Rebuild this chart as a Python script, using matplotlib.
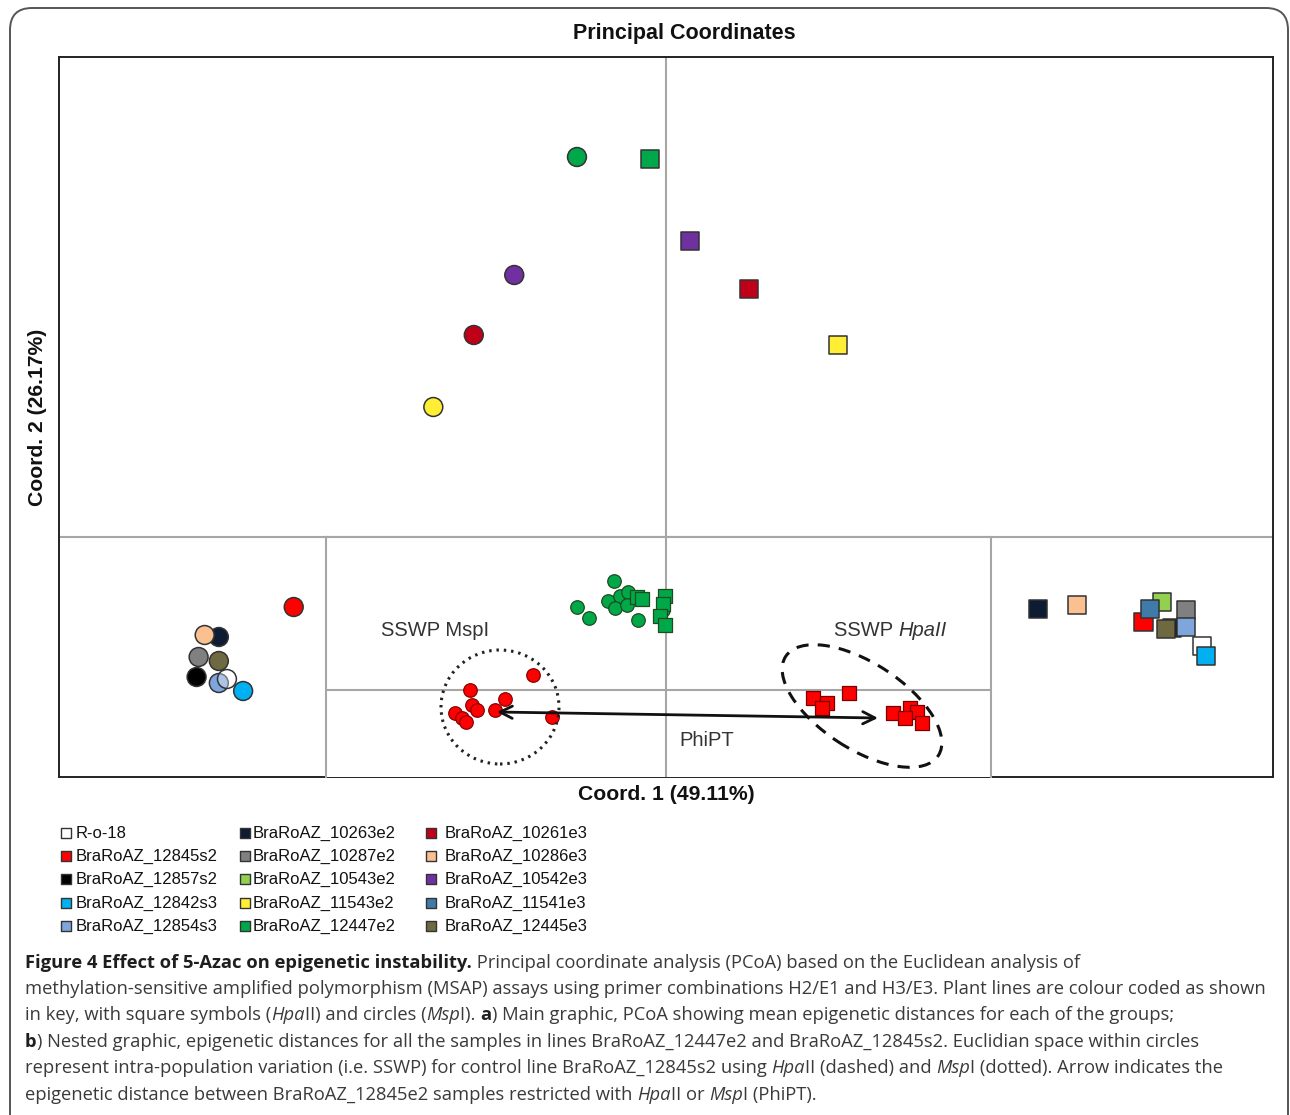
"""PCoA of MSAP epigenetic distances with nested sample-level graphic."""

import matplotlib
import matplotlib.pyplot as plt
from matplotlib.patches import Ellipse, FancyBboxPatch

matplotlib.use("Agg")

W, H = 1290, 1115

# legend / plant lines (column-major order as in the key)
line_names = [
    "R-o-18", "BraRoAZ_12845s2", "BraRoAZ_12857s2", "BraRoAZ_12842s3", "BraRoAZ_12854s3",
    "BraRoAZ_10263e2", "BraRoAZ_10287e2", "BraRoAZ_10543e2", "BraRoAZ_11543e2", "BraRoAZ_12447e2",
    "BraRoAZ_10261e3", "BraRoAZ_10286e3", "BraRoAZ_10542e3", "BraRoAZ_11541e3", "BraRoAZ_12445e3",
]
line_colors = [
    "#ffffff", "#ff0000", "#000000", "#00b0f0", "#7fa6dc",
    "#0e1c33", "#808080", "#92d050", "#ffee33", "#00a84a",
    "#c00018", "#fac090", "#7030a0", "#3f7aa8", "#6e6940",
]
color_of = dict(zip(line_names, line_colors))

# main graphic: group means, MspI (circles)
main_msp_line = ["BraRoAZ_12447e2", "BraRoAZ_10542e3", "BraRoAZ_10261e3", "BraRoAZ_11543e2",
                 "BraRoAZ_12845s2", "BraRoAZ_10263e2", "BraRoAZ_10286e3", "BraRoAZ_10287e2",
                 "BraRoAZ_12445e3", "BraRoAZ_12857s2", "BraRoAZ_12854s3", "R-o-18",
                 "BraRoAZ_12842s3"]
main_msp_x = [-0.044, -0.075, -0.095, -0.115, -0.184, -0.221, -0.228, -0.231,
              -0.221, -0.232, -0.221, -0.217, -0.209]
main_msp_y = [0.190, 0.131, 0.101, 0.065, -0.035, -0.050, -0.049, -0.060,
              -0.062, -0.070, -0.073, -0.071, -0.077]

# main graphic: group means, HpaII (squares)
main_hpa_line = ["BraRoAZ_12447e2", "BraRoAZ_10542e3", "BraRoAZ_10261e3", "BraRoAZ_11543e2",
                 "BraRoAZ_10263e2", "BraRoAZ_10286e3", "BraRoAZ_10543e2", "BraRoAZ_12845s2",
                 "BraRoAZ_11541e3", "BraRoAZ_10287e2", "BraRoAZ_12857s2", "BraRoAZ_12445e3",
                 "BraRoAZ_12854s3", "R-o-18", "BraRoAZ_12842s3"]
main_hpa_x = [-0.008, 0.012, 0.041, 0.085, 0.184, 0.203, 0.245, 0.236,
              0.239, 0.257, 0.250, 0.247, 0.257, 0.265, 0.267]
main_hpa_y = [0.189, 0.148, 0.124, 0.096, -0.036, -0.034, -0.0325, -0.0425,
              -0.036, -0.0365, -0.0455, -0.046, -0.045, -0.0545, -0.0595]

# nested graphic: individual samples
nest_green_msp_x = [-0.052, -0.089, -0.077, -0.058, -0.046, -0.038, -0.051, -0.039, -0.028, -0.003]
nest_green_msp_y = [0.109, 0.083, 0.072, 0.089, 0.094, 0.098, 0.082, 0.085, 0.070, 0.080]
nest_green_hpa_x = [-0.029, -0.024, -0.001, -0.003, -0.006, -0.001]
nest_green_hpa_y = [0.093, 0.091, 0.094, 0.086, 0.074, 0.065]
nest_red_msp_x = [-0.133, -0.196, -0.161, -0.194, -0.189, -0.171, -0.211, -0.204, -0.200, -0.114]
nest_red_msp_y = [0.015, 0.000, -0.009, -0.015, -0.020, -0.020, -0.023, -0.028, -0.032, -0.027]
nest_red_hpa_x = [0.147, 0.161, 0.156, 0.183, 0.227, 0.244, 0.251, 0.239, 0.256]
nest_red_hpa_y = [-0.008, -0.013, -0.018, -0.003, -0.023, -0.018, -0.022, -0.028, -0.033]

caption_lines = [
    [("Figure 4 Effect of 5-Azac on epigenetic instability.", "b"),
     (" Principal coordinate analysis (PCoA) based on the Euclidean analysis of", "n")],
    [("methylation-sensitive amplified polymorphism (MSAP) assays using primer combinations "
      "H2/E1 and H3/E3. Plant lines are colour coded as shown", "n")],
    [("in key, with square symbols (", "n"), ("Hpa", "i"), ("II) and circles (", "n"),
     ("Msp", "i"), ("I). ", "n"), ("a", "b"),
     (") Main graphic, PCoA showing mean epigenetic distances for each of the groups;", "n")],
    [("b", "b"), (") Nested graphic, epigenetic distances for all the samples in lines "
                  "BraRoAZ_12447e2 and BraRoAZ_12845s2. Euclidian space within circles", "n")],
    [("represent intra-population variation (i.e. SSWP) for control line BraRoAZ_12845s2 using ", "n"),
     ("Hpa", "i"), ("II (dashed) and ", "n"), ("Msp", "i"), ("I (dotted). Arrow indicates the", "n")],
    [("epigenetic distance between BraRoAZ_12845e2 samples restricted with ", "n"),
     ("Hpa", "i"), ("II or ", "n"), ("Msp", "i"), ("I (PhiPT).", "n")],
]

ARIAL = "Liberation Sans"
GRID = "#a6a6a6"

fig = plt.figure(figsize=(W / 100, H / 100), dpi=100)
bg = fig.add_axes([0, 0, 1, 1], zorder=0)
bg.set_xlim(0, W)
bg.set_ylim(H, 0)
bg.axis("off")
renderer = fig.canvas.get_renderer()

bg.add_patch(FancyBboxPatch((10, 8), 1278, 1250, boxstyle="round,pad=0,rounding_size=22",
                            fc="none", ec="#555555", lw=1.4))


def run_width(target, s, **kw):
    t = target.text(0, 0, "|" + s + "|", **kw)
    w = t.get_window_extent(renderer).width
    t.remove()
    t = target.text(0, 0, "||", **kw)
    w0 = t.get_window_extent(renderer).width
    t.remove()
    return w - w0


def draw_runs(target, x, y, runs, **base):
    for s, st in runs:
        kw = dict(base)
        if st == "b":
            kw["weight"] = "bold"
            kw["color"] = "#1e1e1e"
        elif st == "i":
            kw["style"] = "italic"
        target.text(x, y, s, va="center", ha="left", **kw)
        x += run_width(target, s, **kw)


# main axes
ax = fig.add_axes([59 / W, 1 - 777 / H, (1273 - 59) / W, (777 - 57) / H], zorder=1)
ax.set_xlim(-0.30, 0.30)
ax.set_ylim(-0.12, 0.24)
ax.set_xticks([])
ax.set_yticks([])
for sp in ax.spines.values():
    sp.set_color("#222222")
    sp.set_linewidth(1.4)
ax.axhline(0, color=GRID, lw=1.5, zorder=1)
ax.axvline(0, color=GRID, lw=1.5, zorder=1)

main_msp_face = [color_of[n] for n in main_msp_line]
main_msp_face = [(1, 1, 1, 0.35) if n == "R-o-18" else c for n, c in zip(main_msp_line, main_msp_face)]
ax.scatter(main_msp_x, main_msp_y, s=185, marker="o", c=main_msp_face,
           edgecolors="#333333", linewidths=1.1, zorder=3)
ax.scatter(main_hpa_x, main_hpa_y, s=170, marker="s", c=[color_of[n] for n in main_hpa_line],
           edgecolors="#333333", linewidths=1.1, zorder=3)

# nested axes
ins = fig.add_axes([326 / W, 1 - 777 / H, (991 - 326) / W, (777 - 537) / H], zorder=2)
ins.set_xlim(-0.340, 0.325)
ins.set_ylim(-0.087, 0.153)
ins.set_xticks([])
ins.set_yticks([])
for name, sp in ins.spines.items():
    sp.set_color(GRID)
    sp.set_linewidth(1.5)
ins.spines["bottom"].set_visible(False)
ins.axhline(0, color=GRID, lw=1.5, zorder=1)
ins.axvline(0, color=GRID, lw=1.5, zorder=1)

green = color_of["BraRoAZ_12447e2"]
red = color_of["BraRoAZ_12845s2"]
ins.scatter(nest_green_msp_x, nest_green_msp_y, s=95, marker="o", c=green,
            edgecolors="#1d4d1d", linewidths=0.9, zorder=3)
ins.scatter(nest_green_hpa_x, nest_green_hpa_y, s=90, marker="s", c=green,
            edgecolors="#1d4d1d", linewidths=0.9, zorder=3)
ins.scatter(nest_red_msp_x, nest_red_msp_y, s=95, marker="o", c=red,
            edgecolors="#8a0000", linewidths=0.9, zorder=3)
ins.scatter(nest_red_hpa_x, nest_red_hpa_y, s=90, marker="s", c=red,
            edgecolors="#7a0000", linewidths=0.9, zorder=3)

ins.add_patch(Ellipse((-0.166, -0.017), 0.118, 0.114, fc="none", ec="#222222",
                      lw=2.2, ls=(0, (0.8, 1.6)), zorder=4))
ins.add_patch(Ellipse((0.196, -0.016), 0.182, 0.086, angle=-33, fc="none", ec="#111111",
                      lw=2.2, ls=(0, (4, 3)), zorder=4))
ins.annotate("", xy=(0.212, -0.028), xytext=(-0.169, -0.022),
             arrowprops=dict(arrowstyle="<->", lw=2.0, color="#111111", mutation_scale=22,
                             shrinkA=0, shrinkB=0), zorder=5)

# overlay layer for labels sitting on the plot
top = fig.add_axes([0, 0, 1, 1], zorder=5)
top.set_xlim(0, W)
top.set_ylim(H, 0)
top.axis("off")
top.patch.set_alpha(0)

# texts of the chart
bg.text(684, 34, "Principal Coordinates", ha="center", va="center", family=ARIAL,
        weight="bold", fontsize=15.5, color="#111111")
bg.text(666, 794, "Coord. 1 (49.11%)", ha="center", va="center", family=ARIAL,
        weight="bold", fontsize=15.2, color="#111111")
bg.text(38, 417, "Coord. 2 (26.17%)", ha="center", va="center", family=ARIAL,
        weight="bold", fontsize=15.2, color="#111111", rotation=90)

lab = dict(family=ARIAL, fontsize=14.5, color="#333333")
draw_runs(top, 381, 630, [("SSWP MspI", "n")], **lab)
draw_runs(top, 834, 630, [("SSWP ", "n"), ("HpaII", "i")], **lab)
top.text(707, 740, "PhiPT", ha="center", va="center", **lab)

# key
row_y = [833, 856, 879, 903, 926]
col_marker_x = [66, 245, 431]
col_text_x = [76, 253, 445]
for i, (name, col) in enumerate(zip(line_names, line_colors)):
    c, r = divmod(i, 5)
    bg.scatter(col_marker_x[c], row_y[r], s=62, marker="s", c=col,
               edgecolors="#333333", linewidths=1.0)
    bg.text(col_text_x[c], row_y[r], name, ha="left", va="center", family=ARIAL,
            fontsize=12, color="#111111")

# caption
cap_y = [963, 989, 1015, 1042, 1068, 1095]
for y, runs in zip(cap_y, caption_lines):
    draw_runs(bg, 25, y, runs, family="Open Sans", fontsize=13.25, color="#3a3a3a")

fig.savefig("out.png", dpi=100)
